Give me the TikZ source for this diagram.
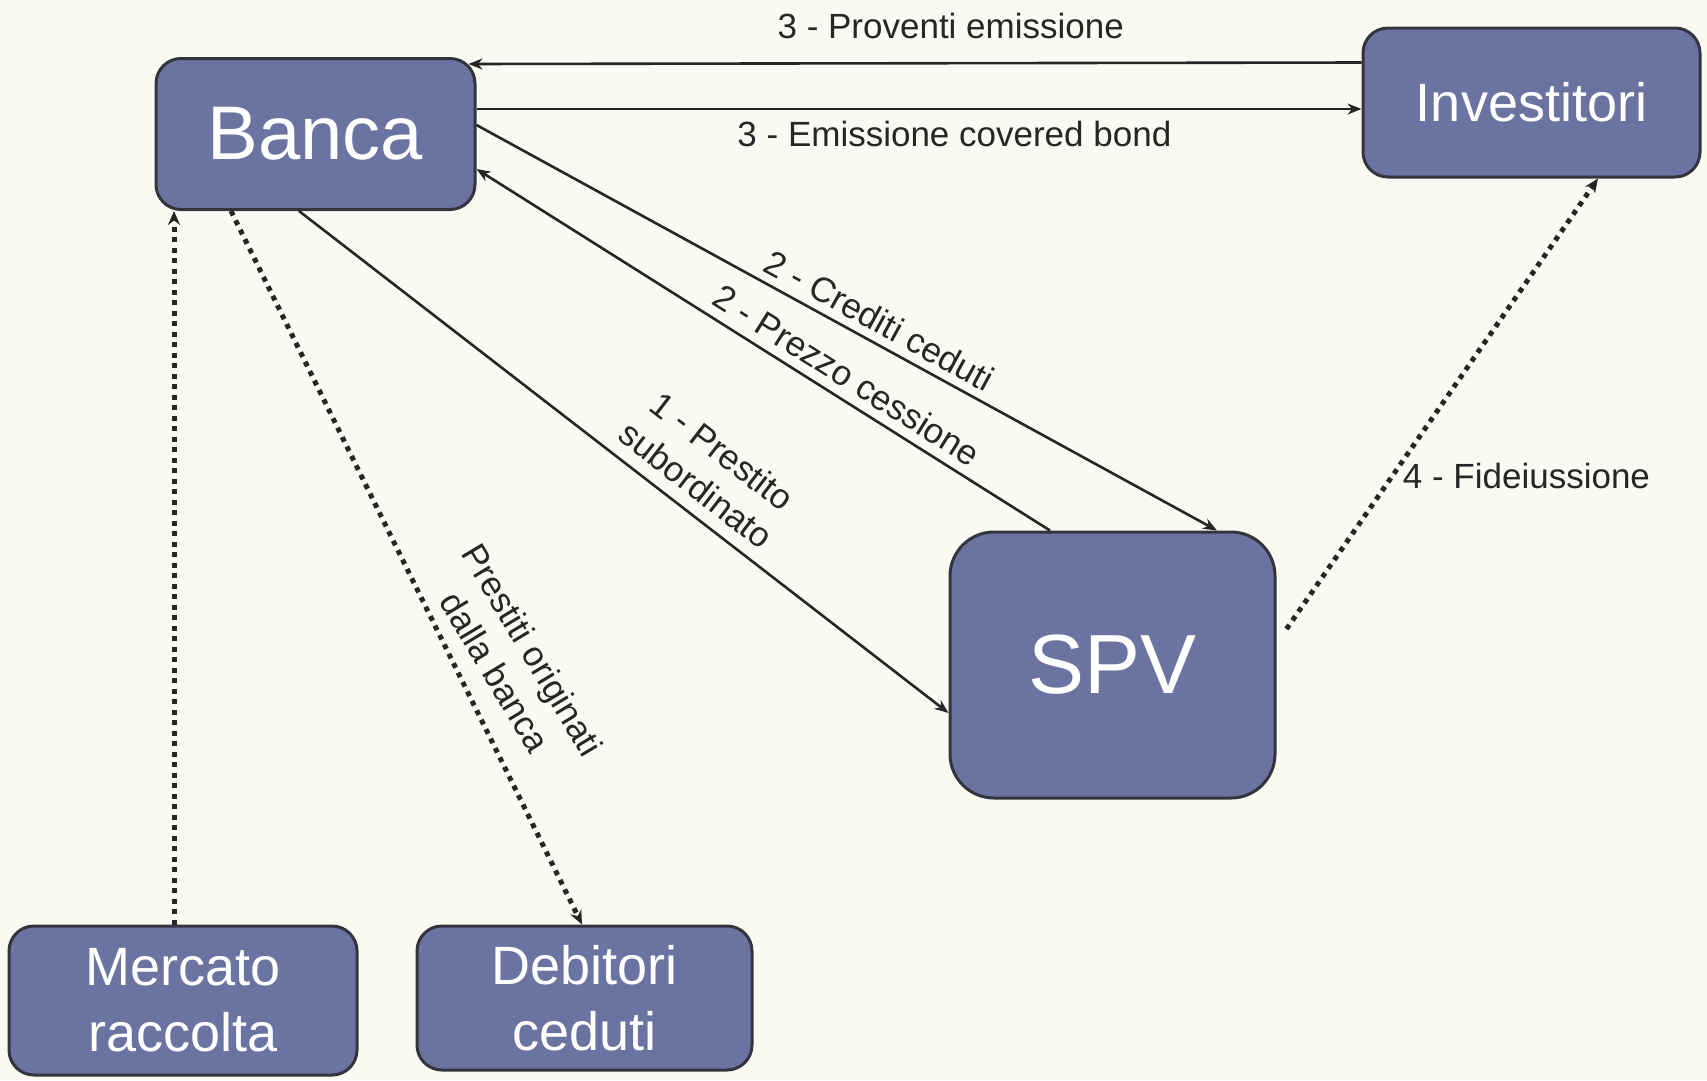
\documentclass[tikz,border=0pt]{standalone}
\usepackage{fontspec}
\setmainfont{Liberation Sans}
\usetikzlibrary{arrows.meta}
\definecolor{paper}{HTML}{FBFAF2}
\definecolor{boxfill}{HTML}{6B74A1}
\definecolor{boxline}{HTML}{34343F}
\definecolor{ink}{HTML}{262626}
\begin{document}
\begin{tikzpicture}[x=1pt,y=-1pt,
  party/.style={draw=boxline, line width=3pt, fill=boxfill, text=white,
    rounded corners=25pt, inner sep=0pt, align=center},
  flow/.style={draw=ink, line width=2.6pt, -{Stealth[length=14pt,width=11pt]}},
  dotflow/.style={draw=ink, line width=5pt, line cap=butt,
    dash pattern=on 5pt off 5.5pt, -{Stealth[length=14pt,width=12pt]}},
  lbl/.style={text=ink, font=\fontsize{35}{43}\selectfont, inner sep=3pt, align=center}]

% page
\fill[paper] (0,0) rectangle (1707,1080);
\useasboundingbox (0,0) rectangle (1707,1080);

% parties
\node[party, minimum width=319pt, minimum height=151pt,
  font=\fontsize{76}{80}\selectfont] (banca) at (315.5,134) {Banca};
\node[party, minimum width=337pt, minimum height=149pt,
  font=\fontsize{54}{66}\selectfont] (inv) at (1531.5,102.5) {Investitori};
\node[party, rounded corners=44pt, minimum width=325pt, minimum height=266pt,
  font=\fontsize{84}{90}\selectfont] (spv) at (1112.5,665) {SPV};
\node[party, minimum width=348pt, minimum height=149pt,
  font=\fontsize{54}{66}\selectfont] (merc) at (183,1000.5) {Mercato\\raccolta};
\node[party, minimum width=335pt, minimum height=144pt,
  font=\fontsize{54}{66}\selectfont] (deb) at (584.5,998) {Debitori\\ceduti};

% covered bond issue and proceeds
\draw[flow] ([yshift=40pt]inv.west) --
  node[lbl, above=20pt, pos=0.46] {3 - Proventi emissione}
  ([xshift=-8pt,yshift=70pt]banca.east);
\draw[flow] ([yshift=25pt]banca.east) --
  node[lbl, below=8pt, pos=0.54] {3 - Emissione covered bond}
  ([yshift=-6.5pt]inv.west);

% transfer of the loans to the SPV
\draw[flow] ([yshift=9pt]banca.east) --
  node[lbl, sloped, above=5pt, pos=0.53] {2 - Crediti ceduti}
  ([xshift=104.5pt]spv.north);
\draw[flow] ([xshift=-62.5pt]spv.north) --
  node[lbl, sloped, above=6pt, pos=0.376] {2 - Prezzo cessione}
  ([yshift=-35pt]banca.east);

% subordinated loan
\draw[flow] ([xshift=-16.5pt]banca.south) --
  node[lbl, sloped, above=9pt, pos=0.587] {1 - Prestito\\subordinato}
  ([yshift=-48pt]spv.west);

% dotted relations
\draw[dotflow] ([xshift=-9pt]merc.north) -- ([xshift=-141.5pt]banca.south);
\draw[dotflow] ([xshift=-84.5pt]banca.south) -- ([xshift=-2.5pt]deb.north);
\node[lbl, rotate=-59] (orig) at (514,661) {Prestiti originati\\dalla banca};
\draw[dotflow] ([xshift=10pt,yshift=36pt]spv.east) --
  node[lbl, pos=0.34, right=5pt] {4 - Fideiussione}
  ([xshift=66.5pt]inv.south);
\end{tikzpicture}
\end{document}
